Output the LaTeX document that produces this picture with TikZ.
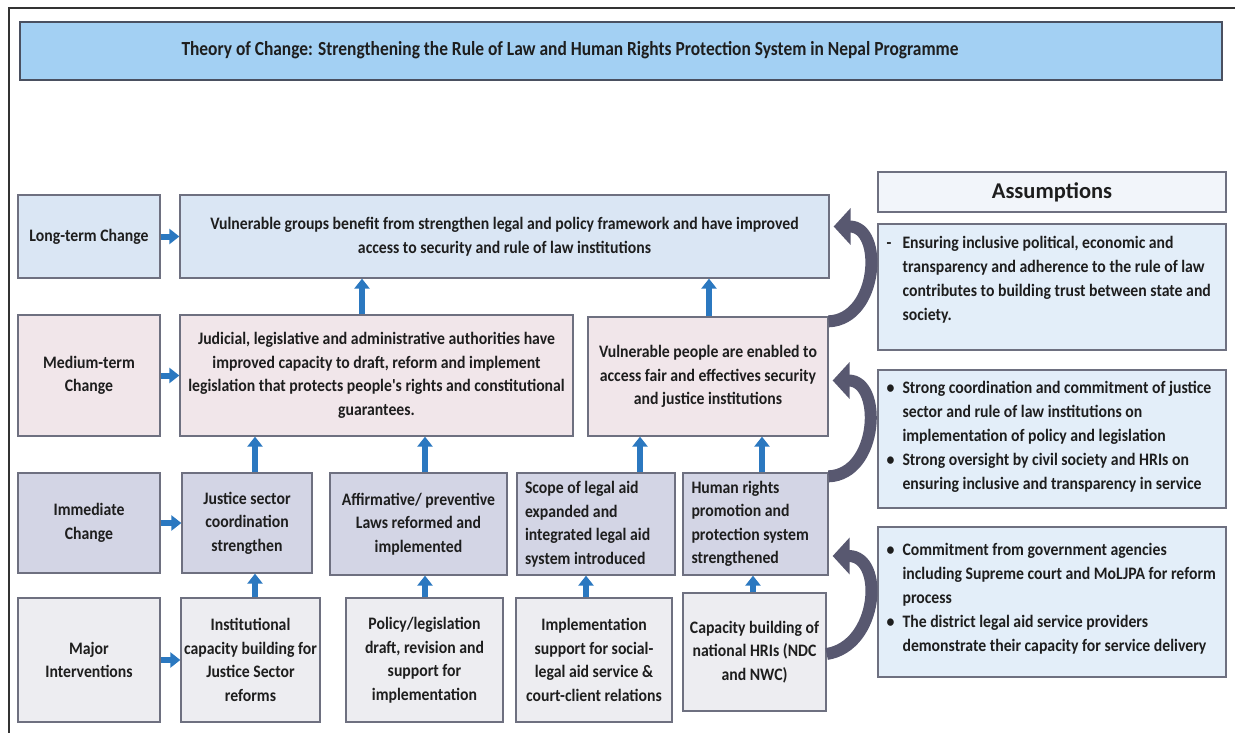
\documentclass[tikz,border=0pt]{standalone}
\usepackage{fontspec}
\setmainfont{Carlito}
\newfontfamily\condfam{Carlito}[FakeStretch=0.9]
\newfontfamily\titlefam{Carlito}[FakeStretch=0.87]
\usetikzlibrary{arrows.meta}

\definecolor{titlefill}{HTML}{A3D0F3}
\definecolor{titleline}{HTML}{4A5060}
\definecolor{ltfill}{HTML}{DAE6F4}
\definecolor{mtfill}{HTML}{F1E6EA}
\definecolor{icfill}{HTML}{D3D5E5}
\definecolor{mifill}{HTML}{EDEDF1}
\definecolor{ahfill}{HTML}{F2F5FA}
\definecolor{asfill}{HTML}{E3EEF9}
\definecolor{boxline}{HTML}{6E7080}
\definecolor{arrowblue}{HTML}{2B78C0}
\definecolor{curvecol}{HTML}{585870}
\definecolor{ink}{HTML}{1E1E1E}

\newcommand\txtbody{\condfam\fontsize{17.5}{23.5}\selectfont\bfseries}
\newcommand\txtlist{\condfam\fontsize{17.5}{24}\selectfont\bfseries}
\newcommand\txttitle{\titlefam\fontsize{20}{25}\selectfont\bfseries}
\newcommand\txthead{\fontsize{22.5}{26}\selectfont\bfseries}
\newcommand\bul{\makebox[16pt][l]{•}}
\newcommand\dsh{\makebox[16pt][l]{-}}
\newcommand\ind{\hspace*{16pt}}

\tikzset{
  cell/.style={draw=boxline, line width=1.3pt, inner sep=3pt, align=center,
    font=\txtbody, text=ink},
  atext/.style={inner sep=0pt, align=flush left, font=\txtlist, text=ink, anchor=north west},
  barrow/.style={draw=arrowblue, line width=6pt, -{Triangle[width=15pt,length=10pt]}},
  carrow/.style={draw=curvecol, line width=12pt, -{Triangle[width=36pt,length=17pt]}},
  frame/.style={draw=black!80, line width=2.2pt},
}

\begin{document}
\begin{tikzpicture}[x=1pt,y=-1pt]
\useasboundingbox (0,0) rectangle (1235,733);

% page frame
\draw[frame] (1235,8) -- (9,8) -- (9,733);

% title bar
\node[cell, draw=titleline, line width=1.8pt, fill=titlefill,
  minimum width=1202pt, minimum height=58pt] (title) at (621,51) {};
\node[font=\txttitle, text=ink] (titletext) at (570,50)
  {Theory of Change: Strengthening the Rule of Law and Human Rights Protection System in Nepal Programme};

% long-term row
\node[cell, fill=ltfill, minimum width=142pt, minimum height=83pt] (lt) at (89,236.5) {Long-term Change};
\node[cell, fill=ltfill, minimum width=649pt, minimum height=83pt] (vg) at (504.5,236.5)
  {Vulnerable groups benefit from strengthen legal and policy framework and have improved\\access to security and rule of law institutions};

% medium-term row
\node[cell, fill=mtfill, minimum width=142pt, minimum height=121pt] (mt) at (89,375.5) {Medium-term\\Change};
\node[cell, fill=mtfill, minimum width=393pt, minimum height=121pt] (jud) at (376.5,375.5)
  {Judicial, legislative and administrative authorities have\\improved capacity to draft, reform and implement\\legislation that protects people's rights and constitutional\\guarantees.};
\node[cell, fill=mtfill, minimum width=240pt, minimum height=119pt] (vp) at (708,376.5)
  {Vulnerable people are enabled to\\access fair and effectives security\\and justice institutions};

% immediate row
\node[cell, fill=icfill, minimum width=142pt, minimum height=100pt] (ic) at (89,523) {Immediate\\Change};
\node[cell, fill=icfill, minimum width=130pt, minimum height=100pt] (js) at (247,523)
  {Justice sector\\coordination\\strengthen};
\node[cell, fill=icfill, minimum width=177pt, minimum height=102pt] (aff) at (418.5,524)
  {Affirmative/ preventive\\Laws reformed and\\implemented};
\node[cell, fill=icfill, minimum width=158pt, minimum height=102pt, text width=142pt, align=flush left] (scope) at (596,524)
  {Scope of legal aid\\expanded and\\integrated legal aid\\system introduced};
\node[cell, fill=icfill, minimum width=145pt, minimum height=102pt, text width=128pt, align=flush left] (hr) at (755.5,524)
  {Human rights\\promotion and\\protection system\\strengthened};

% interventions row
\node[cell, fill=mifill, minimum width=142pt, minimum height=124pt] (mi) at (89,660) {Major\\Interventions};
\node[cell, fill=mifill, minimum width=139pt, minimum height=124pt] (inst) at (250.5,660)
  {Institutional\\capacity building for\\Justice Sector\\reforms};
\node[cell, fill=mifill, minimum width=157pt, minimum height=124pt] (pol) at (424.5,660)
  {Policy/legislation\\draft, revision and\\support for\\implementation};
\node[cell, fill=mifill, minimum width=156pt, minimum height=124pt] (impl) at (594,660)
  {Implementation\\support for social-\\legal aid service \&\\court-client relations};
\node[cell, fill=mifill, minimum width=143pt, minimum height=118pt] (cap) at (754.5,652)
  {Capacity building of\\national HRIs (NDC\\and NWC)};

% assumptions column
\node[cell, fill=ahfill, minimum width=348pt, minimum height=40pt, font=\txthead] (ah) at (1052,192) {Assumptions};
\node[cell, fill=asfill, minimum width=348pt, minimum height=126pt] (a1) at (1052,287) {};
\node[cell, fill=asfill, minimum width=348pt, minimum height=138pt] (a2) at (1052,439) {};
\node[cell, fill=asfill, minimum width=348pt, minimum height=150pt] (a3) at (1052,602) {};

\node[atext] (a1t) at ([xshift=9pt,yshift=-13pt]a1.north west)
  {\dsh Ensuring inclusive political, economic and\\
   \ind transparency and adherence to the rule of law\\
   \ind contributes to building trust between state and\\
   \ind society.};
\node[atext] (a2t) at ([xshift=9pt,yshift=-12pt]a2.north west)
  {\bul Strong coordination and commitment of justice\\
   \ind sector and rule of law institutions on\\
   \ind implementation of policy and legislation\\
   \bul Strong oversight by civil society and HRIs on\\
   \ind ensuring inclusive and transparency in service};
\node[atext] (a3t) at ([xshift=9pt,yshift=-17pt]a3.north west)
  {\bul Commitment from government agencies\\
   \ind including Supreme court and MoLJPA for reform\\
   \ind process\\
   \bul The district legal aid service providers\\
   \ind demonstrate their capacity for service delivery};

% columns for the vertical arrows
\coordinate (c1) at (255,0);
\coordinate (c2) at (362,0);
\coordinate (c3) at (425,0);
\coordinate (c4) at (586,0);
\coordinate (c5) at (640,0);
\coordinate (c6) at (709,0);
\coordinate (c7) at (753,0);
\coordinate (c8) at (762,0);

% level arrows from the row labels
\draw[barrow] (lt.east) -- (vg.west);
\draw[barrow] (mt.east) -- (jud.west);
\draw[barrow] (ic.east) -- (js.west);
\draw[barrow] (mi.east) -- (inst.west);

% upward arrows
\draw[barrow] (c2 |- jud.north) -- (c2 |- vg.south);
\draw[barrow] (c6 |- vp.north) -- (c6 |- vg.south);
\draw[barrow] (c1 |- js.north) -- (c1 |- jud.south);
\draw[barrow] (c3 |- aff.north) -- (c3 |- jud.south);
\draw[barrow] (c5 |- scope.north) -- (c5 |- vp.south);
\draw[barrow] (c8 |- hr.north) -- (c8 |- vp.south);
\draw[barrow] (c1 |- inst.north) -- (c1 |- js.south);
\draw[barrow] (c3 |- pol.north) -- (c3 |- aff.south);
\draw[barrow] (c4 |- impl.north) -- (c4 |- scope.south);
\draw[barrow] (c7 |- cap.north) -- (c7 |- hr.south);

% curved arrows carrying the assumptions
\draw[carrow] ([yshift=-5pt]vp.north east) .. controls +(50,-2) and +(50,0) .. ([xshift=4pt,yshift=10pt]vg.east);
\draw[carrow] ([yshift=-4pt]hr.north east) .. controls +(50,-2) and +(50,0) .. ([xshift=4pt,yshift=-4pt]vp.east);
\draw[carrow] ([yshift=-2pt]cap.east) .. controls +(52,-8) and +(52,0) .. ([xshift=4pt,yshift=-32pt]hr.east);
\end{tikzpicture}
\end{document}
